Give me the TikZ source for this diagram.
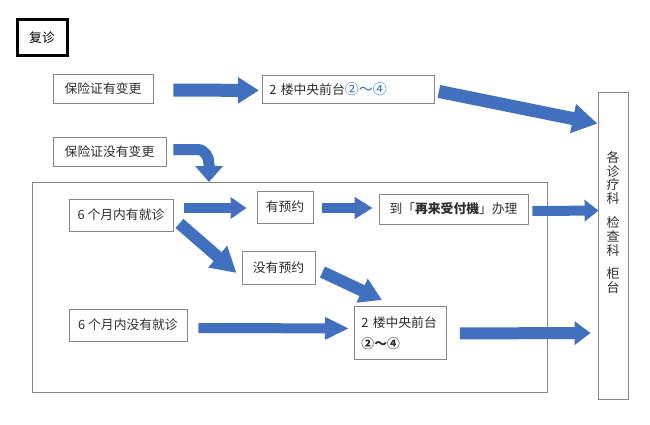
\documentclass[tikz,border=0pt]{standalone}
\usepackage{fontspec}
\setmainfont{Noto Sans CJK SC}
\usetikzlibrary{arrows.meta,calc}
\definecolor{arrowblue}{RGB}{64,112,190}
\definecolor{boxgray}{RGB}{135,135,135}
\definecolor{txt}{RGB}{45,45,45}
\definecolor{numblue}{RGB}{40,110,205}
\begin{document}
\begin{tikzpicture}[x=1pt,y=-1pt,
  box/.style={draw=boxgray, line width=0.9pt, inner sep=0pt, text=txt,
    font=\fontsize{12.8}{14}\selectfont},
  barrow/.style n args={3}{draw=arrowblue, line width=#1,
    -{Triangle[width=#2,length=#3]}}]
\useasboundingbox (0,0) rectangle (650,425);
% boxes
\node[draw=black, line width=3pt, minimum width=50pt, minimum height=36pt, inner sep=0pt,
  font=\fontsize{12.8}{14}\selectfont] (fz) at (42,38) {复诊};
\node[box, minimum width=100pt, minimum height=29pt] (a1) at (103,88.5) {保险证有变更};
\node[box, anchor=north west, minimum width=172pt, minimum height=28pt, text width=158pt, align=left]
  (b1) at (262,75) {2 楼中央前台\textcolor{numblue}{\fontsize{14}{14}\selectfont ②〜④}};
\node[box, minimum width=30pt, minimum height=307pt] (r) at (613,245.5) {};
\node[text=txt, align=center, inner sep=0pt, font=\fontsize{13}{13.8}\selectfont] (rtext) at (613,222.5)
  {各\\诊\\疗\\科\\[10pt]检\\查\\科\\[10pt]柜\\台};
\node[box, minimum width=113pt, minimum height=29pt] (a2) at (109.5,151.5) {保险证没有变更};
\node[draw=boxgray, line width=0.9pt, anchor=north west, minimum width=515pt, minimum height=210pt,
  inner sep=0pt] (cont) at (32,182) {};
\node[box, minimum width=104pt, minimum height=32pt] (c1) at (121,215) {6 个月内有就诊};
\node[box, minimum width=56pt, minimum height=32pt] (d1) at (285,207) {有预约};
\node[box, minimum width=149pt, minimum height=30pt] (e1) at (453.5,209) {到「\textbf{再来受付機}」办理};
\node[box, minimum width=73pt, minimum height=33pt] (d2) at (278.5,267.5) {没有预约};
\node[box, anchor=north west, minimum width=92pt, minimum height=53pt, text width=78pt, align=left,
  font=\fontsize{12.8}{21}\selectfont] (f1) at (354,306) {2 楼中央前台\\\textbf{②〜④}};
\node[box, minimum width=118pt, minimum height=32pt] (c2) at (128,325) {6 个月内没有就诊};
% arrows
\draw[barrow={13pt}{25pt}{21pt}] ($(a1.east)+(20,1.5)$) -- ($(b1.west)+(-3,1)$);
\draw[barrow={13pt}{28pt}{25pt}] ($(b1.east)+(4,2)$) -- ($(r.north west)+(0,32)$);
\draw[barrow={11pt}{27pt}{16pt}] ($(a2.east)+(7,-2)$) -- ++(24,0)
  to[out=0,in=90] ($(cont.north west)+(177,-18)$) -- ($(cont.north west)+(177,0)$);
\draw[barrow={10pt}{21pt}{16pt}] ($(c1.east)+(11,-7)$) -- ($(d1.west)+(-10,1)$);
\draw[barrow={10pt}{21pt}{18pt}] ($(d1.east)+(9,1)$) -- ($(e1.west)+(-6,-1)$);
\draw[barrow={10pt}{21pt}{14pt}] ($(e1.east)+(4,2)$) -- ($(r.north west)+(1,119)$);
\draw[barrow={12pt}{27pt}{25pt}] ($(c1.south east)+(6,-8)$) -- ($(d2.west)+(-5,5.5)$);
\draw[barrow={12pt}{25pt}{22pt}] ($(d2.east)+(7,4.5)$) -- ($(f1.north west)+(28,-6)$);
\draw[barrow={10pt}{21pt}{24pt}] ($(c2.east)+(11,3)$) -- ($(f1.west)+(-5,-4.5)$);
\draw[barrow={12pt}{23pt}{16pt}] ($(f1.east)+(13,0.5)$) -- ($(r.west)+(-7,87.5)$);
\end{tikzpicture}
\end{document}
